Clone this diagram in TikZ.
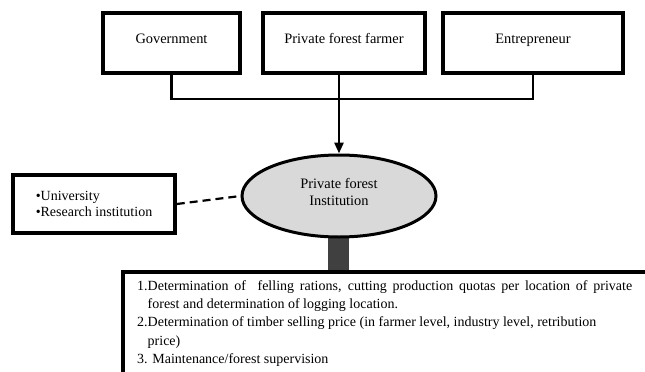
\documentclass[tikz,border=0pt]{standalone}
\usepackage{fontspec}
\setmainfont{Liberation Serif}
\usetikzlibrary{shapes.geometric,arrows.meta}
\definecolor{ellfill}{HTML}{D9D9D9}
\definecolor{stemfill}{HTML}{404040}
\begin{document}
\begin{tikzpicture}[x=1pt,y=-1pt,
  topbox/.style={draw, line width=3.5pt, minimum height=60pt, inner sep=0pt,
    font=\fontsize{14.4}{17}\selectfont, text height=10pt, text depth=10pt},
  conn/.style={line width=2.8pt},
  sidebox/.style={draw, line width=3.5pt, minimum width=162pt, minimum height=58pt,
    inner sep=0pt, align=left, font=\fontsize{14}{16.5}\selectfont},
  inst/.style={ellipse, draw, line width=3pt, fill=ellfill, minimum width=194pt,
    minimum height=82pt, inner sep=0pt, align=center, font=\fontsize{14.4}{17}\selectfont},
  listtext/.style={anchor=north west, inner sep=0pt, align=left,
    font=\fontsize{14}{18.4}\selectfont}
]
\useasboundingbox (0,0) rectangle (645,372);
\begin{scope}
\clip (0,0) rectangle (645,372);
% nodes
\node[topbox, minimum width=137pt] (gov) at (171.5,43) {Government};
\node[topbox, minimum width=162pt] (farmer) at (344,43) {Private forest farmer};
\node[topbox, minimum width=180pt] (ent) at (533,43) {Entrepreneur};
% stem behind ellipse
\fill[stemfill] (328,225) rectangle (349,272);
\node[inst] (ell) at (339,196) {Private forest\\Institution\\[-8pt]\mbox{}};
\node[sidebox] (side) at (94,204) {\textbullet University\\\textbullet Research institution};
% bottom box (cut off by the page)
\coordinate (bl) at (123,272);
\draw[line width=4.5pt] (660,272) -- (bl) -- (123,390);
\node[listtext] (list) at (137,280) {%
\makebox[495pt][s]{1.Determination of \ felling rations, cutting production quotas per location of private}\\
\hphantom{1.}forest and determination of logging location.\\
2.Determination of timber selling price (in farmer level, industry level, retribution\\
\hphantom{1.}price)\\
3. Maintenance/forest supervision};
% connectors
\coordinate (join) at (339,99);
\draw[conn] (gov.south) |- (join) -| (ent.south);
\draw[conn, -{Triangle[width=9pt,length=11pt]}] (farmer.south -| ell.north) -- (ell.north);
\draw[line width=2.2pt, dash pattern=on 8pt off 5pt] (side.east) -- (ell.west);
\end{scope}
\end{tikzpicture}
\end{document}
